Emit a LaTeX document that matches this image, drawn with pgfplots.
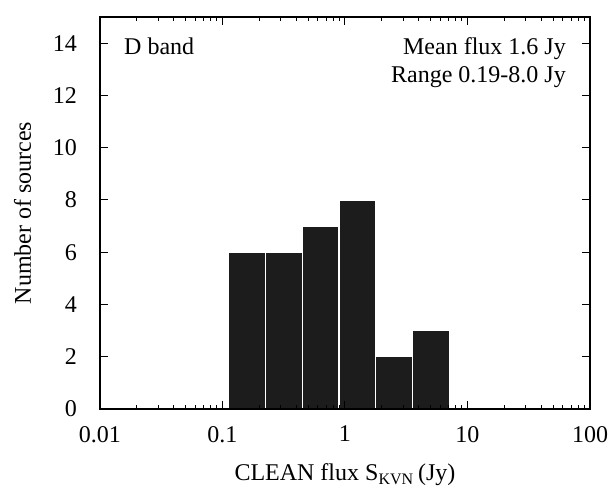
\documentclass[border=0pt]{standalone}
\usepackage{fontspec}
\setmainfont{Liberation Serif}
\usepackage{pgfplots}
\pgfplotsset{compat=1.18}

\begin{document}
\begin{tikzpicture}[font=\fontsize{12}{14}\selectfont]
\begin{axis}[
    name=ax,
    scale only axis,
    width=245pt, height=196pt,
    xmode=log,
    xmin=0.01, xmax=100,
    ymin=0, ymax=15,
    xtick={0.01,0.1,1,10,100},
    xticklabels={0.01,0.1,1,10,100},
    ytick={0,2,4,6,8,10,12,14},
    tick align=inside,
    major tick length=4pt,
    minor tick length=2pt,
    /pgf/number format/assume math mode=true,
    xticklabel style={yshift=-5pt},
    yticklabel style={xshift=-8pt},
    xlabel={CLEAN flux S\textsubscript{KVN}\,(Jy)},
    ylabel={Number of sources},
    xlabel style={yshift=-4pt},
    ylabel style={yshift=4pt},
    axis line style={line width=0.7pt},
    every tick/.style={black, line width=0.5pt},
    axis on top,
]
% histogram counts, bins of factor 2
\addplot[ybar interval, fill=black!89, draw=white, line width=0.6pt]
coordinates {
    (0.1117, 6)
    (0.2234, 6)
    (0.4468, 7)
    (0.8936, 8)
    (1.787,  2)
    (3.574,  3)
    (7.149,  3)
};
\node[anchor=north west] at (rel axis cs:0.035,0.965) {D band};
\node[anchor=north east, align=right] at (rel axis cs:0.965,0.965) {Mean flux 1.6 Jy\\Range 0.19-8.0 Jy};
\end{axis}
\pgfresetboundingbox
\path[use as bounding box] ([xshift=-50pt,yshift=-40.5pt]ax.south west) rectangle ([xshift=11.5pt,yshift=8.5pt]ax.north east);
\end{tikzpicture}
\end{document}
